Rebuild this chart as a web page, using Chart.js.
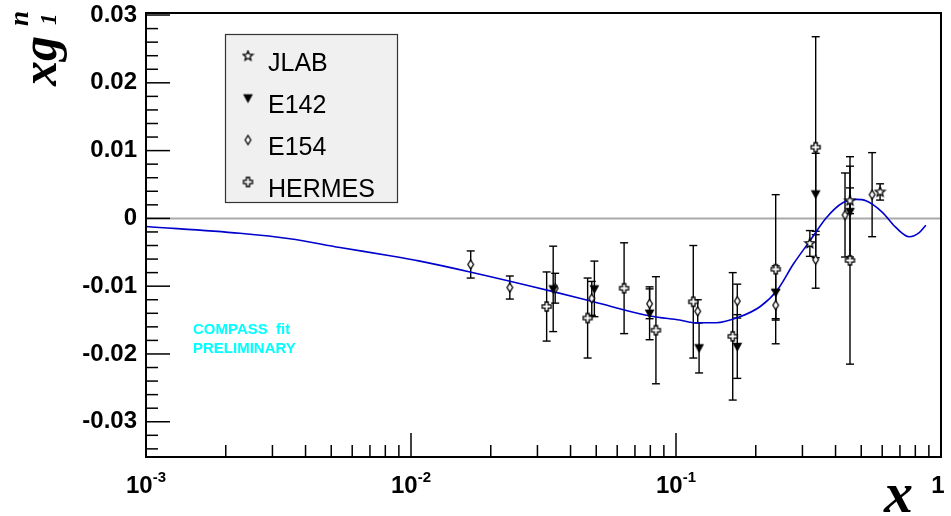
<!DOCTYPE html>
<html>
<head>
<meta charset="utf-8">
<script src="https://cdn.jsdelivr.net/npm/chart.js@4.4.0/dist/chart.umd.min.js"></script>
<style>
  html, body { margin: 0; padding: 0; background: #fff; }
</style>
</head>
<body>
<canvas id="c" width="951" height="516"></canvas>
<script>
// fit curve, sampled along the line
const fitX = [0.001, 0.00226, 0.00349, 0.00539, 0.00833, 0.0108, 0.0167, 0.0344, 0.0488, 0.0799,
  0.1031, 0.119, 0.1418, 0.172, 0.208, 0.2409, 0.2777, 0.3203, 0.3694, 0.426, 0.478, 0.521,
  0.601, 0.674, 0.7588, 0.828, 0.877];
const fitY = [-0.0012, -0.0022, -0.0030, -0.0043, -0.0055, -0.0063, -0.0079, -0.0108, -0.0123, -0.0144,
  -0.0150, -0.0154, -0.0154, -0.0146, -0.0130, -0.0106, -0.0067, -0.0033, 0.0001, 0.0023, 0.0028, 0.0026,
  0.0009, -0.0013, -0.0027, -0.0021, -0.0010];

const jlabX = [0.320, 0.4535, 0.589];
const jlabY = [-0.0037, 0.0026, 0.0039];
const jlabErr = [0.0019, 0.0019, 0.0012];

const e142X = [0.0344, 0.0492, 0.0795, 0.1222, 0.1703, 0.2378, 0.3366, 0.4535];
const e142Y = [-0.0104, -0.0104, -0.0140, -0.0191, -0.0189, -0.0109, 0.0036, 0.0010];
const e142Err = [0.0063, 0.0041, 0.0039, 0.0037, 0.0047, 0.0039, 0.0060, 0.0067];

const e154X = [0.0168, 0.0236, 0.0350, 0.0481, 0.0795, 0.1208, 0.1703, 0.2378, 0.3366, 0.4343, 0.5496];
const e154Y = [-0.0068, -0.0102, -0.0103, -0.0118, -0.0126, -0.0137, -0.0122, -0.0128, -0.0061, 0.0005, 0.0035];
const e154Err = [0.0020, 0.0017, 0.0022, 0.0025, 0.0022, 0.0017, 0.0025, 0.0022, 0.0042, 0.0062, 0.0062];

const hermesX = [0.0325, 0.0464, 0.0637, 0.0840, 0.1162, 0.1637, 0.2378, 0.3366, 0.4535];
const hermesY = [-0.0130, -0.0147, -0.0103, -0.0165, -0.0123, -0.0174, -0.0075, 0.0105, -0.0062];
const hermesErr = [0.0051, 0.0059, 0.0067, 0.0079, 0.0083, 0.0094, 0.0110, 0.0163, 0.0153];

const yTicks = [-0.03, -0.02, -0.01, 0, 0.01, 0.02, 0.03];
const xDecades = [0.001, 0.01, 0.1, 1];
const xDecadeLabels = [['10', '-3'], ['10', '-2'], ['10', '-1'], ['1', '']];
const legendNames = ['JLAB', 'E142', 'E154', 'HERMES'];

const SANS = '"Liberation Sans", Arial, sans-serif';
const SERIF = '"Liberation Serif", "Times New Roman", serif';

// small ROOT-like marker images
function makeMarker(kind) {
  const c = document.createElement('canvas');
  c.width = 13; c.height = 13;
  const g = c.getContext('2d');
  g.translate(6.5, 6.5);
  g.lineWidth = 1.3;
  g.strokeStyle = '#000';
  g.fillStyle = '#fff';
  g.beginPath();
  if (kind === 'star') {
    for (let i = 0; i < 10; i++) {
      const r = i % 2 ? 2.2 : 5;
      const a = -Math.PI / 2 + i * Math.PI / 5;
      g.lineTo(r * Math.cos(a), r * Math.sin(a));
    }
    g.closePath(); g.fill(); g.stroke();
  } else if (kind === 'tri') {
    g.moveTo(-3.8, -3); g.lineTo(3.8, -3); g.lineTo(0, 3.8); g.closePath();
    g.fillStyle = '#000'; g.fill(); g.stroke();
  } else if (kind === 'diamond') {
    g.moveTo(0, -4.5); g.lineTo(2.8, 0); g.lineTo(0, 4.5); g.lineTo(-2.8, 0); g.closePath();
    g.fill(); g.stroke();
  } else {
    const w = 1.6, l = 4.5;
    g.moveTo(-w, -l); g.lineTo(w, -l); g.lineTo(w, -w); g.lineTo(l, -w); g.lineTo(l, w);
    g.lineTo(w, w); g.lineTo(w, l); g.lineTo(-w, l); g.lineTo(-w, w); g.lineTo(-l, w);
    g.lineTo(-l, -w); g.lineTo(-w, -w); g.closePath();
    g.fill(); g.stroke();
  }
  return c;
}
const markers = [makeMarker('star'), makeMarker('tri'), makeMarker('diamond'), makeMarker('cross')];

const pts = (xs, ys) => xs.map((v, i) => ({x: v, y: ys[i]}));

function seg(ctx, x1, y1, x2, y2) {
  ctx.beginPath(); ctx.moveTo(x1, y1); ctx.lineTo(x2, y2); ctx.stroke();
}

const rootStyle = {
  id: 'rootStyle',
  beforeDatasetsDraw(chart) {
    const {ctx, chartArea: a, scales: {x, y}} = chart;
    ctx.save();
    ctx.strokeStyle = '#aaaaaa';
    ctx.lineWidth = 2;
    const y0 = y.getPixelForValue(0);
    seg(ctx, a.left, y0, a.right, y0);
    // error bars with caps
    ctx.strokeStyle = '#000';
    ctx.lineWidth = 1.4;
    chart.data.datasets.forEach(ds => {
      if (!ds.errors) return;
      ds.data.forEach((p, j) => {
        const px = x.getPixelForValue(p.x);
        const t = y.getPixelForValue(p.y + ds.errors[j]);
        const b = y.getPixelForValue(p.y - ds.errors[j]);
        seg(ctx, px, t, px, b);
        seg(ctx, px - 4, t, px + 4, t);
        seg(ctx, px - 4, b, px + 4, b);
      });
    });
    ctx.restore();
  },
  afterDraw(chart) {
    const {ctx, chartArea: a, scales: {x, y}} = chart;
    ctx.save();
    ctx.strokeStyle = '#000';
    ctx.lineWidth = 2;
    ctx.strokeRect(a.left, a.top, a.right - a.left, a.bottom - a.top);

    // ticks on left and bottom, pointing inward
    ctx.lineWidth = 1.5;
    for (let k = -17; k <= 15; k++) {
      const py = y.getPixelForValue(k * 0.002);
      seg(ctx, a.left, py, a.left + (k % 5 === 0 ? 24 : 12), py);
    }
    for (let d = 0; d < xDecades.length; d++) {
      const px = x.getPixelForValue(xDecades[d]);
      seg(ctx, px, a.bottom, px, a.bottom - 24);
      if (d < xDecades.length - 1) {
        for (let m = 2; m <= 9; m++) {
          const mx = x.getPixelForValue(m * xDecades[d]);
          seg(ctx, mx, a.bottom, mx, a.bottom - 12);
        }
      }
    }

    // x tick labels with exponents
    ctx.fillStyle = '#000';
    ctx.textBaseline = 'alphabetic';
    xDecades.forEach((v, i) => {
      const px = x.getPixelForValue(v);
      const [base, exp] = xDecadeLabels[i];
      ctx.font = 'bold 24px ' + SANS;
      const wb = ctx.measureText(base).width;
      ctx.font = 'bold 15px ' + SANS;
      const we = exp ? ctx.measureText(exp).width : 0;
      let sx = px - (wb + we) / 2;
      if (!exp) sx = px - wb / 2 - 3;
      ctx.font = 'bold 24px ' + SANS;
      ctx.textAlign = 'left';
      ctx.fillText(base, sx, 493);
      if (exp) {
        ctx.font = 'bold 15px ' + SANS;
        ctx.fillText(exp, sx + wb, 482);
      }
    });

    // axis titles
    ctx.font = 'bold italic 58px ' + SERIF;
    ctx.textAlign = 'left';
    ctx.fillText('x', 884, 512);

    ctx.save();
    ctx.translate(56, 86);
    ctx.rotate(-Math.PI / 2);
    ctx.font = 'bold italic 50px ' + SERIF;
    ctx.fillText('xg', 0, 0);
    ctx.font = 'bold italic 27px ' + SERIF;
    ctx.fillText('n', 60, -28);
    ctx.font = 'bold italic 23px ' + SERIF;
    ctx.fillText('1', 61, 0);
    ctx.restore();

    // legend box
    ctx.fillStyle = '#f0f0f0';
    ctx.fillRect(225, 34, 173, 169);
    ctx.strokeStyle = '#333';
    ctx.lineWidth = 1.2;
    ctx.strokeRect(225.5, 34.5, 172, 168);
    ctx.fillStyle = '#000';
    ctx.font = '25px ' + SANS;
    legendNames.forEach((name, i) => {
      const cy = 62 + i * 42;
      const mk = markers[i];
      ctx.drawImage(mk, 248 - mk.width / 2, cy - 6 - mk.height / 2);
      ctx.fillText(name, 268, cy + 9);
    });

    // fit annotation
    ctx.fillStyle = '#00ffff';
    ctx.font = 'bold 15px ' + SANS;
    ctx.fillText('COMPASS  fit', 193, 334);
    ctx.fillText('PRELIMINARY', 193, 353);
    ctx.restore();
  }
};

const errDs = (label, xs, ys, errs, mk) => ({
  label: label,
  data: pts(xs, ys),
  errors: errs,
  pointStyle: mk,
  pointRadius: 6,
  pointHoverRadius: 6,
  showLine: false
});

new Chart(document.getElementById('c'), {
  type: 'scatter',
  data: {
    datasets: [
      errDs('JLAB', jlabX, jlabY, jlabErr, markers[0]),
      errDs('E142', e142X, e142Y, e142Err, markers[1]),
      errDs('E154', e154X, e154Y, e154Err, markers[2]),
      errDs('HERMES', hermesX, hermesY, hermesErr, markers[3]),
      {
        label: 'fit',
        data: pts(fitX, fitY),
        showLine: true,
        borderColor: '#0000cc',
        borderWidth: 1.6,
        pointRadius: 0,
        cubicInterpolationMode: 'monotone',
        fill: false
      }
    ]
  },
  options: {
    responsive: false,
    animation: false,
    events: [],
    layout: { padding: { top: 13, right: 10, left: 0, bottom: 0 } },
    plugins: { legend: { display: false }, tooltip: { enabled: false } },
    scales: {
      x: {
        type: 'logarithmic',
        min: 0.001,
        max: 1,
        grid: { display: false, drawTicks: false },
        border: { display: false },
        ticks: { display: false },
        afterFit(s) { s.height = 59; s.paddingLeft = 0; s.paddingRight = 0; }
      },
      y: {
        min: -0.0352,
        max: 0.0303,
        grid: { display: false, drawTicks: false },
        border: { display: false },
        afterBuildTicks(s) { s.ticks = yTicks.map(v => ({value: v})); },
        ticks: {
          padding: 9,
          color: '#000',
          font: { family: SANS, size: 24, weight: 'bold' },
          callback: v => (Math.abs(v) < 1e-9 ? '0' : v.toFixed(2))
        },
        afterFit(s) { s.width = 146; s.paddingTop = 0; s.paddingBottom = 0; }
      }
    }
  },
  plugins: [rootStyle]
});
</script>
</body>
</html>
